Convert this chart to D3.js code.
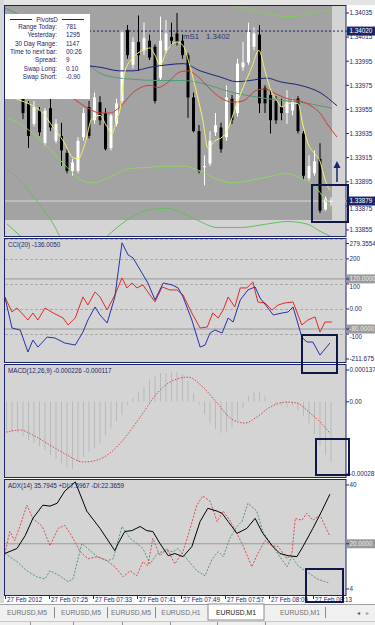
<!DOCTYPE html>
<html>
<head>
<meta charset="utf-8">
<script src="https://cdn.jsdelivr.net/npm/d3@7"></script>
<style>
body { margin:0; background:#fff; }
svg { display:block; font-family:"Liberation Sans", Arial, sans-serif; }
</style>
</head>
<body>
<svg id="chart" width="375" height="625"></svg>
<script>
// ---- candles, EURUSD M1, 07:17 .. 08:16
const open = [1.33996,1.33979,1.33992,1.33969,1.33960,1.33943,1.33954,1.33927,1.33956,1.33929,
1.33933,1.33919,1.33904,1.33904,1.33932,1.33957,1.33946,1.33961,1.33952,1.33923,
1.33943,1.33962,1.34021,1.33992,1.34011,1.34004,1.34012,1.34007,1.33981,1.34004,
1.34015,1.34018,1.34012,1.34000,1.33965,1.33937,1.33907,1.33910,1.33936,1.33940,
1.33932,1.33964,1.33952,1.33990,1.33994,1.34007,1.34017,1.33973,1.33967,1.33962,
1.33957,1.33952,1.33954,1.33964,1.33935,1.33898,1.33902,1.33914,1.33872,1.33879];
const high = [1.34000,1.33996,1.33994,1.33972,1.33962,1.33962,1.33957,1.33956,1.33964,1.33947,
1.33944,1.33922,1.33914,1.33932,1.33956,1.33962,1.33969,1.33966,1.33956,1.33952,
1.33964,1.34021,1.34025,1.34015,1.34033,1.34027,1.34017,1.34009,1.34032,1.34029,
1.34027,1.34035,1.34017,1.34002,1.33969,1.33942,1.33917,1.33937,1.33952,1.33944,
1.33975,1.33967,1.33997,1.34011,1.34027,1.34023,1.34025,1.33975,1.33971,1.33966,
1.33964,1.33971,1.33964,1.33966,1.33937,1.33917,1.33921,1.33927,1.33883,1.33882];
const low = [1.33979,1.33975,1.33967,1.33947,1.33923,1.33941,1.33933,1.33925,1.33937,1.33927,
1.33908,1.33902,1.33900,1.33902,1.33929,1.33931,1.33943,1.33942,1.33921,1.33921,
1.33941,1.33960,1.33997,1.33989,1.33987,1.34000,1.33996,1.33960,1.33979,1.34002,
1.34008,1.34008,1.33997,1.33948,1.33936,1.33902,1.33892,1.33908,1.33933,1.33919,
1.33929,1.33943,1.33949,1.33987,1.33992,1.34004,1.33952,1.33952,1.33935,1.33943,
1.33946,1.33943,1.33950,1.33935,1.33897,1.33896,1.33900,1.33869,1.33871,1.33875];
const close = [1.33983,1.33992,1.33971,1.33952,1.33933,1.33957,1.33936,1.33954,1.33940,1.33943,
1.33921,1.33904,1.33911,1.33929,1.33952,1.33933,1.33965,1.33946,1.33922,1.33950,
1.33960,1.34019,1.34000,1.34011,1.34000,1.34014,1.33998,1.33962,1.34012,1.34018,
1.34012,1.34011,1.34000,1.33965,1.33937,1.33904,1.33908,1.33929,1.33942,1.33922,
1.33965,1.33946,1.33993,1.33994,1.34019,1.34018,1.33960,1.33960,1.33946,1.33946,
1.33952,1.33961,1.33962,1.33937,1.33900,1.33908,1.33912,1.33871,1.33881,1.33879];

// ---- main chart indicator lines [bar, price]
const maYellow = [[0.5,1.33966],[2.8,1.33962],[4.8,1.33958],[6.6,1.33952],[8.5,1.33940],[10.3,1.33929],[12.1,1.33915],[13.0,1.33914],
[14.3,1.33927],[15.5,1.33947],[17.0,1.33950],[18.1,1.33942],[19.2,1.33935],[20.1,1.33948],[20.6,1.33954],[21.5,1.33986],
[23.0,1.33998],[24.8,1.34004],[26.1,1.34006],[27.0,1.34000],[27.9,1.33992],[29.2,1.34004],[31.0,1.34011],[32.1,1.34008],
[33.4,1.33990],[34.6,1.33968],[35.7,1.33946],[36.6,1.33923],[37.9,1.33929],[39.2,1.33932],[40.1,1.33937],[41.0,1.33948],
[41.9,1.33960],[43.0,1.33973],[44.6,1.33990],[45.9,1.34004],[47.0,1.33987],[47.9,1.33973],[49.2,1.33962],[50.1,1.33957],
[51.2,1.33960],[53.0,1.33960],[53.9,1.33942],[54.8,1.33927],[56.1,1.33918],[57.0,1.33912],[57.6,1.33902],[58.3,1.33892],[58.8,1.33888]];
const maRed = [[8.0,1.33972],[11.9,1.33965],[13.4,1.33960],[15.2,1.33955],[17.0,1.33952],[18.8,1.33952],[20.6,1.33957],[23.0,1.33969],
[26.1,1.33975],[27.5,1.33973],[29.2,1.33977],[31.5,1.33986],[33.0,1.33987],[34.6,1.33983],[37.0,1.33972],[38.8,1.33965],
[41.2,1.33961],[43.0,1.33962],[45.5,1.33971],[47.0,1.33972],[48.5,1.33969],[51.0,1.33964],[53.4,1.33962],[55.7,1.33957],
[57.0,1.33952],[58.3,1.33943],[60.1,1.33932]];
const maNavy = [[-0.3,1.34008],[7.9,1.34000],[15.2,1.33991],[17.0,1.33990],[20.6,1.33987],[23.0,1.33987],[26.1,1.33990],[29.2,1.33992],
[32.1,1.33993],[35.2,1.33987],[38.8,1.33982],[41.9,1.33978],[44.3,1.33979],[47.4,1.33981],[49.7,1.33978],[53.4,1.33975],
[57.0,1.33969],[60.1,1.33958]];
const maTeal = [[-0.3,1.34039],[2.5,1.34033],[7.9,1.34014],[15.2,1.33991],[17.0,1.33985],[20.6,1.33981],[23.0,1.33980],[27.4,1.33979],
[32.1,1.33979],[35.2,1.33977],[41.2,1.33969],[47.4,1.33964],[51.0,1.33962],[53.4,1.33961],[57.0,1.33958],[59.2,1.33956]];
const bandUpper = [[38.0,1.34050],[41.5,1.34041],[44.3,1.34038],[47.9,1.34034],[51.5,1.34032],[54.3,1.34033],[57.0,1.34036],[59.2,1.34038]];
const bandMiddle = [[0.1,1.33948],[2.5,1.33943],[4.8,1.33935],[7.9,1.33922],[11.0,1.33907],[13.4,1.33897],[15.7,1.33894],[18.3,1.33898],
[22.5,1.33906],[26.1,1.33907],[29.2,1.33908],[32.1,1.33908],[35.2,1.33904],[38.3,1.33897],[41.2,1.33894],[44.3,1.33896],
[48.5,1.33900],[51.0,1.33902],[53.4,1.33898],[55.7,1.33893],[57.0,1.33886],[59.2,1.33871]];
const bandLower = [[0.1,1.33906],[3.0,1.33893],[5.5,1.33879],[8.5,1.33860],[10.3,1.33846],[15.2,1.33837],[18.8,1.33852],[22.5,1.33865],
[26.1,1.33872],[29.2,1.33873],[32.1,1.33869],[35.2,1.33862],[38.3,1.33857],[42.5,1.33857],[47.4,1.33860],[51.0,1.33862],
[54.6,1.33860],[57.0,1.33854],[59.2,1.33849]];
const bandLower2 = [[0.1,1.33860],[2.5,1.33850],[4.3,1.33842]];
const pivotS1 = 1.34020;
const bidPrice = 1.33879;
const mainTicks = [1.34035,1.34015,1.33995,1.33975,1.33955,1.33935,1.33915,1.33895,1.33875,1.33855];

// ---- CCI [bar, value]
const cciBlue = [[-0.3,48],[1.0,-76],[2.5,-84],[3.9,-172],[4.8,-124],[5.7,-152],[7.4,-112],[8.8,-116],[10.6,-136],[12.5,-144],
[13.9,-92],[14.8,-44],[16.1,8],[17.0,-24],[18.3,-56],[19.7,48],[21.0,264],[22.1,216],[23.0,204],[24.3,156],[25.7,104],
[27.0,36],[28.5,104],[30.1,96],[31.2,84],[32.1,48],[33.7,-44],[35.2,-152],[36.1,-144],[37.0,-96],[37.9,-84],[39.2,-96],
[40.3,-36],[41.2,-52],[42.5,36],[43.9,76],[45.2,88],[46.1,44],[47.4,8],[48.5,-24],[50.1,-16],[51.2,-12],[52.1,8],
[53.7,-112],[54.6,-132],[55.7,-132],[57.0,-184],[58.8,-136]];
const cciRed = [[-0.3,48],[1.0,-12],[1.9,4],[3.9,-44],[4.8,-16],[5.7,-44],[7.0,4],[8.5,-16],[10.3,-36],[11.2,-64],[12.5,-36],
[13.9,48],[14.8,16],[16.1,68],[17.0,48],[18.3,-4],[19.7,56],[21.0,124],[21.9,84],[22.8,104],[23.7,84],[24.8,96],[25.7,68],
[27.0,28],[28.3,88],[29.7,76],[31.0,76],[32.1,56],[33.7,-16],[35.2,-76],[36.5,-72],[37.5,-16],[38.5,-36],[39.4,-4],
[40.3,48],[41.5,8],[42.5,84],[43.7,84],[44.8,108],[45.7,28],[47.0,24],[48.3,-4],[49.4,16],[50.6,24],[52.1,28],
[53.7,-64],[54.8,-44],[56.1,-32],[57.0,-92],[57.9,-52],[59.2,-52]];
const cciTicks = [[279.3554,"279.3554"],[200,"200"],[100,"100"],[0,"0.00"],[-100,"-100"],[-211.675,"-211.675"]];
const cciLevels = [120, -80];

// ---- MACD
const macdMain = [-0.000105,-0.000113,-0.000116,-0.000127,-0.000142,-0.000154,-0.000165,-0.000180,-0.000198,-0.000213,
-0.000228,-0.000243,-0.000250,-0.000224,-0.000206,-0.000187,-0.000172,-0.000154,-0.000124,-0.000098,
-0.000072,-0.000049,-0.000012,0.000014,0.000036,0.000055,0.000081,0.000096,0.000107,0.000107,
0.000110,0.000110,0.000103,0.000077,0.000032,-0.000012,-0.000046,-0.000079,-0.000101,-0.000116,
-0.000113,-0.000094,-0.000068,-0.000023,0.000021,0.000036,0.000036,0.000021,0.000003,-0.000009,
-0.000016,-0.000020,-0.000016,-0.000031,-0.000053,-0.000079,-0.000120,-0.000165,-0.000198,-0.000226];
const macdSignal = [[-0.6,-0.000116],[2.5,-0.000105],[4.8,-0.000124],[7.9,-0.000161],[11.0,-0.000198],[13.9,-0.000224],
[16.5,-0.000217],[18.8,-0.000191],[21.2,-0.000142],[24.3,-0.000057],[27.4,0.000032],[29.7,0.000073],[33.0,0.000092],
[35.7,0.000055],[38.3,-0.000005],[41.2,-0.000068],[43.4,-0.000079],[45.5,-0.000057],[47.9,-0.000020],[51.0,-0.000001],
[52.8,-0.000005],[55.2,-0.000042],[57.0,-0.000075],[58.8,-0.000117]];

// ---- ADX
const adxMain = [[-0.3,16.9],[1.9,18.5],[3.4,22.6],[4.8,28.1],[6.6,32.3],[7.9,32.0],[9.2,32.9],[10.6,36.8],[12.5,39.7],[14.6,30.4],
[17.0,24.9],[19.7,17.8],[20.3,20.1],[21.5,23.9],[22.8,24.2],[24.3,25.5],[25.5,24.2],[26.6,23.9],[27.9,20.1],[29.4,16.2],
[30.6,16.9],[32.1,15.9],[33.7,19.1],[35.2,27.1],[36.6,31.3],[38.3,30.4],[39.2,29.7],[40.3,27.1],[41.9,23.3],[43.7,24.9],
[45.2,28.1],[46.6,23.3],[48.3,19.4],[49.7,16.9],[51.2,16.2],[52.8,15.9],[53.9,19.1],[55.7,24.9],[57.4,30.7],[58.8,35.8]];
const plusDI = [[-0.3,16.9],[1.9,14.3],[3.7,11.4],[5.5,9.5],[7.0,8.8],[7.9,11.4],[9.7,9.8],[11.2,7.9],[12.1,8.8],[13.7,20.1],
[15.2,17.8],[16.5,15.9],[18.3,14.6],[19.4,15.2],[21.0,25.5],[22.5,21.7],[23.7,20.1],[24.8,18.5],[26.1,13.6],[27.4,16.9],
[28.8,17.8],[30.3,17.5],[31.2,18.5],[32.8,15.2],[34.6,11.4],[36.1,9.8],[37.4,15.2],[38.5,17.5],[39.4,15.9],[40.6,21.7],
[41.9,25.5],[42.8,27.1],[43.9,32.9],[45.5,30.4],[46.6,23.9],[48.3,19.4],[49.7,15.9],[51.0,12.7],[51.9,15.9],[53.0,13.0],
[54.6,11.1],[56.5,8.8],[58.5,7.6]];
const minusDI = [[-0.3,16.9],[0.6,23.9],[1.5,21.0],[2.5,25.9],[3.7,32.3],[4.8,28.1],[6.5,25.5],[7.9,19.4],[9.4,24.9],[10.6,25.9],
[11.9,22.3],[13.4,17.5],[14.8,15.2],[16.5,15.9],[18.3,14.6],[19.7,12.7],[21.2,9.5],[22.5,11.4],[23.7,9.8],[24.8,14.3],
[25.7,13.0],[26.6,21.7],[27.9,16.2],[29.2,18.5],[30.6,13.6],[32.1,17.5],[33.4,24.9],[34.6,32.3],[35.7,35.2],[37.0,33.6],
[38.3,27.1],[39.4,30.4],[40.6,27.5],[41.9,23.3],[43.0,19.4],[44.6,12.7],[45.7,16.9],[47.0,21.0],[48.3,19.4],[49.4,19.1],
[51.0,15.2],[51.9,16.9],[52.5,28.1],[53.7,27.5],[54.6,29.7],[55.7,27.5],[57.0,29.1],[58.8,22.4]];

// ---- texts
const infoLabels = ["Range Today:","Yesterday:","30 Day Range:","Time to next bar:","Spread:","Swap  Long:","Swap  Short:"];
const infoValues = ["781","1295","1147","00:26","9","0.10","-0.90"];
const timeTickBars = [0,8,16,24,32,40,48,56];
const timeTickLabels = ["27 Feb 2012","27 Feb 07:25","27 Feb 07:33","27 Feb 07:41","27 Feb 07:49","27 Feb 07:57","27 Feb 08:05","27 Feb 08:13"];
const tabLabels = ["EURUSD,M5","EURUSD,M5","EURUSD,M5","EURUSD,H1","EURUSD,M1","EURUSD,M1"];

const navy = "#1c2468", fs = 6.3;
const svg = d3.select('#chart');

const x = d3.scaleLinear().domain([0,59]).range([6.5,331]);
const P = {
  main:{y0:6,y1:236},
  cci:{y0:239,y1:362},
  macd:{y0:365,y1:477},
  adx:{y0:480,y1:595}
};
const yMain = d3.scaleLinear().domain([1.3385,1.340408]).range([P.main.y1,P.main.y0]);
const yCci = d3.scaleLinear().domain([-211.675,279.3554]).range([P.cci.y1,P.cci.y0]);
const yMacd = d3.scaleLinear().domain([-0.00028,0.000137]).range([P.macd.y1,P.macd.y0]);
const yAdx = d3.scaleLinear().domain([4,40]).range([P.adx.y1-1,P.adx.y0+1]);

// window background
svg.append('rect').attr('width',375).attr('height',625).attr('fill','#fff');
svg.append('rect').attr('width',375).attr('height',5).attr('fill','#e4e4e4');
svg.append('rect').attr('width',4).attr('height',603).attr('fill','#d6d6d6');

const defs = svg.append('defs');
Object.keys(P).forEach(k=>{
  const p = P[k];
  svg.append('rect').attr('x',4.5).attr('y',p.y0-0.5).attr('width',341.5).attr('height',p.y1-p.y0+1)
    .attr('fill','#d4d4d4').attr('stroke',navy).attr('stroke-width',1);
  defs.append('clipPath').attr('id','clip-'+k).append('rect')
    .attr('x',5).attr('y',p.y0).attr('width',341).attr('height',p.y1-p.y0);
});

function layer(k){ return svg.append('g').attr('clip-path','url(#clip-'+k+')'); }
// right-axis label; dy shifts a label that sits under a highlighted level
function rText(y, txt, opts){
  opts = opts || {};
  const dy = opts.dy || 0;
  if (opts.bg) {
    svg.append('rect').attr('x',347).attr('y',y-4.5).attr('width',30).attr('height',9).attr('fill',opts.bg);
  }
  svg.append('line').attr('x1',346).attr('x2',349).attr('y1',y).attr('y2',y).attr('stroke',navy);
  svg.append('text').attr('x',349.5).attr('y',y+2.3+dy).attr('font-size',fs)
    .attr('fill',opts.color || navy).text(txt);
}
function lineOf(ys, curve){
  return d3.line().x(d=>x(d[0])).y(d=>ys(d[1])).curve(curve || d3.curveLinear);
}

// ================= MAIN
const gm = layer('main');
gm.append('rect').attr('x',5).attr('y',P.main.y0).attr('width',327).attr('height',214).attr('fill','#a3a3a3');
gm.append('line').attr('x1',5).attr('x2',346).attr('y1',yMain(bidPrice)).attr('y2',yMain(bidPrice))
  .attr('stroke','#d8d8d8').attr('stroke-width',1);
gm.append('line').attr('x1',5).attr('x2',346).attr('y1',yMain(pivotS1)).attr('y2',yMain(pivotS1))
  .attr('stroke','#1a2060').attr('stroke-dasharray','2,2');
gm.append('text').attr('x',183).attr('y',yMain(pivotS1)+8).attr('font-size',7.8).attr('fill','#28357a').text('mS1');
gm.append('text').attr('x',206).attr('y',yMain(pivotS1)+8).attr('font-size',7.8).attr('fill','#28357a').text(pivotS1.toFixed(4));

const bars = d3.range(open.length);
gm.selectAll('.wick').data(bars).enter().append('line')
  .attr('x1',i=>x(i)).attr('x2',i=>x(i))
  .attr('y1',i=>yMain(high[i])).attr('y2',i=>yMain(low[i]))
  .attr('stroke',i=>close[i]>=open[i]?'#fff':'#000').attr('stroke-width',1);
gm.selectAll('.body').data(bars).enter().append('rect')
  .attr('x',i=>x(i)-1.5).attr('width',3)
  .attr('y',i=>yMain(Math.max(open[i],close[i])))
  .attr('height',i=>Math.max(1,Math.abs(yMain(open[i])-yMain(close[i]))))
  .attr('fill',i=>close[i]>=open[i]?'#fff':'#000');

const mainLines = [
  [bandLower2,'#5cb85a'],[bandLower,'#62c05a'],[bandMiddle,'#8ed660'],[bandUpper,'#82cc5a'],
  [maTeal,'#4f9c78'],[maNavy,'#1a237a'],[maRed,'#d23a32'],[maYellow,'#f4f26c']
];
mainLines.forEach(([d,c])=>{
  gm.append('path').datum(d).attr('d',lineOf(yMain,d3.curveMonotoneX)).attr('fill','none')
    .attr('stroke',c).attr('stroke-width',1);
});

// info box
const gi = svg.append('g');
gi.append('rect').attr('x',5).attr('y',14).attr('width',85).attr('height',85).attr('fill','#fff');
gi.append('line').attr('x1',10).attr('x2',32).attr('y1',19.5).attr('y2',19.5).attr('stroke',navy);
gi.append('line').attr('x1',62).attr('x2',84).attr('y1',19.5).attr('y2',19.5).attr('stroke',navy);
gi.append('text').attr('x',47).attr('y',21.5).attr('text-anchor','middle').attr('font-size',fs).attr('fill',navy).text('PivotsD');
infoLabels.forEach((t,k)=>{
  const yy = 28.7 + k*8.4;
  gi.append('text').attr('x',57).attr('y',yy).attr('text-anchor','end').attr('font-size',fs).attr('fill',navy).text(t);
  gi.append('text').attr('x',66).attr('y',yy).attr('font-size',fs).attr('fill',navy).text(infoValues[k]);
});

mainTicks.forEach(v=>rText(yMain(v), v.toFixed(5), {dy: Math.abs(v-bidPrice)<0.00006 ? 3 : 0}));
rText(yMain(pivotS1), pivotS1.toFixed(5), {bg:'#1a2468', color:'#fff'});
rText(yMain(bidPrice), bidPrice.toFixed(5), {bg:'#1a2468', color:'#fff'});

// arrow
svg.append('line').attr('x1',337).attr('x2',337).attr('y1',182).attr('y2',166).attr('stroke','#1a2468').attr('stroke-width',1.5);
svg.append('path').attr('d','M333.5,168 L337,161 L340.5,168 Z').attr('fill','#1a2468');

// ================= CCI
const gc = layer('cci');
cciTicks.forEach(([v])=>{
  gc.append('line').attr('x1',5).attr('x2',346).attr('y1',Math.round(yCci(v))+0.5).attr('y2',Math.round(yCci(v))+0.5)
    .attr('stroke','#a9a9a9').attr('stroke-dasharray','3,2');
});
cciLevels.forEach(v=>{
  gc.append('line').attr('x1',5).attr('x2',346).attr('y1',yCci(v)).attr('y2',yCci(v)).attr('stroke','#9a9a9a');
});
gc.append('path').datum(cciRed).attr('d',lineOf(yCci)).attr('fill','none').attr('stroke','#e02a2a').attr('stroke-width',1);
gc.append('path').datum(cciBlue).attr('d',lineOf(yCci)).attr('fill','none').attr('stroke','#2433a8').attr('stroke-width',1);
svg.append('text').attr('x',8).attr('y',P.cci.y0+8).attr('font-size',fs).attr('fill',navy).text('CCI(20) -136.0050');
cciTicks.forEach(([v,t])=>{
  const yy = Math.min(Math.max(yCci(v), P.cci.y0+4.5), P.cci.y1-3);
  rText(yy, t, {dy: (v===100 || v===-100) ? 2.5 : 0});
});
cciLevels.forEach(v=>rText(yCci(v), v.toFixed(4), {bg:'#9a9a9a', color:'#eeeeee'}));

// ================= MACD
const gd = layer('macd');
gd.selectAll('.hist').data(bars).enter().append('line')
  .attr('x1',i=>x(i)).attr('x2',i=>x(i))
  .attr('y1',yMacd(0)).attr('y2',i=>yMacd(macdMain[i]))
  .attr('stroke','#b9b9b9').attr('stroke-width',1);
gd.append('path').datum(macdSignal).attr('d',lineOf(yMacd,d3.curveMonotoneX)).attr('fill','none')
  .attr('stroke','#d04a4a').attr('stroke-width',1).attr('stroke-dasharray','1.5,1.5');
svg.append('text').attr('x',8).attr('y',P.macd.y0+8).attr('font-size',fs).attr('fill',navy)
  .text('MACD(12,26,9) -0.000226 -0.000117');
rText(P.macd.y0+5, '0.000137');
rText(yMacd(0), '0.00');
rText(P.macd.y1-3, '-0.00028');

// ================= ADX
const ga = layer('adx');
ga.append('line').attr('x1',5).attr('x2',346).attr('y1',yAdx(20)).attr('y2',yAdx(20)).attr('stroke','#9a9a9a');
ga.append('path').datum(plusDI).attr('d',lineOf(yAdx)).attr('fill','none')
  .attr('stroke','#4f9a70').attr('stroke-width',1).attr('stroke-dasharray','2,1.5');
ga.append('path').datum(minusDI).attr('d',lineOf(yAdx)).attr('fill','none')
  .attr('stroke','#e04a4a').attr('stroke-width',1).attr('stroke-dasharray','2,1.5');
ga.append('path').datum(adxMain).attr('d',lineOf(yAdx)).attr('fill','none')
  .attr('stroke','#000').attr('stroke-width',1);
svg.append('text').attr('x',8).attr('y',P.adx.y0+8).attr('font-size',fs).attr('fill',navy)
  .text('ADX(14) 35.7945 +DI:7.5967 -DI:22.3659');
rText(P.adx.y0+5, '40');
rText(yAdx(20), '20.0000', {bg:'#9a9a9a', color:'#eeeeee'});
rText(P.adx.y1-6, '4');

// ================= time axis
timeTickBars.forEach((b,k)=>{
  const xx = Math.round(x(b))-1.5;
  svg.append('line').attr('x1',xx).attr('x2',xx).attr('y1',595).attr('y2',599).attr('stroke',navy);
  svg.append('text').attr('x',xx+1.5).attr('y',601.5).attr('font-size',fs).attr('fill',navy).text(timeTickLabels[k]);
});

// ================= highlight boxes
const boxes = [[312,185,36,37],[302,335,35,38],[316,439,33,36],[306,569,37,33]];
boxes.forEach(b=>{
  svg.append('rect').attr('x',b[0]).attr('y',b[1]).attr('width',b[2]).attr('height',b[3])
    .attr('fill','none').attr('stroke','#10184a').attr('stroke-width',2);
});

// ================= tabs
svg.append('rect').attr('x',0).attr('y',604).attr('width',375).attr('height',21).attr('fill','#f0f0f0');
svg.append('line').attr('x1',0).attr('x2',375).attr('y1',604.5).attr('y2',604.5).attr('stroke','#a0a0a0');
svg.append('rect').attr('x',208).attr('y',604).attr('width',56).attr('height',16).attr('fill','#fff')
  .attr('stroke','#8a8a8a');
const tabCx = [27,81,131,181,236,300];
const tabSep = [54,107,155,325];
tabLabels.forEach((t,k)=>{
  svg.append('text').attr('x',tabCx[k]).attr('y',615).attr('text-anchor','middle').attr('font-size',6.8)
    .attr('fill',k===4?'#202020':'#707070').text(t);
});
tabSep.forEach(s=>svg.append('line').attr('x1',s+0.5).attr('x2',s+0.5).attr('y1',607).attr('y2',618).attr('stroke','#8a8a8a'));
svg.append('text').attr('x',357).attr('y',615).attr('font-size',6).attr('fill','#555').text('◂');
svg.append('text').attr('x',366).attr('y',615).attr('font-size',6).attr('fill','#999').text('▸');
svg.append('line').attr('x1',0).attr('x2',375).attr('y1',621.5).attr('y2',621.5).attr('stroke','#c8c8c8');
[30,73,122,170,217,265].forEach(s=>svg.append('line').attr('x1',s+0.5).attr('x2',s+0.5).attr('y1',622).attr('y2',625).attr('stroke','#909090'));
</script>
</body>
</html>
